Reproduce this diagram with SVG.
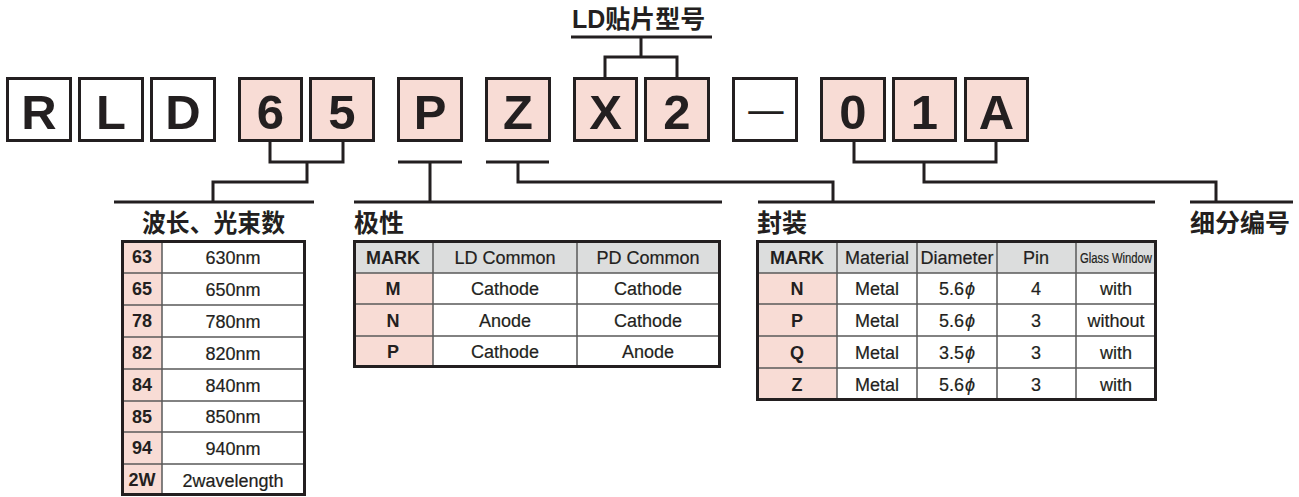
<svg xmlns="http://www.w3.org/2000/svg" width="1299" height="497" viewBox="0 0 1299 497">
<style>
.bx{stroke:#231f20;stroke-width:3;fill:#fff}
.pk{fill:#f8dcd5}
.lt{font-family:"Liberation Sans",Arial,sans-serif;font-weight:bold;font-size:49px;fill:#231f20;text-anchor:middle}
.hd{font-family:"Liberation Sans","Noto Sans CJK SC",sans-serif;font-weight:bold;font-size:25px;fill:#231f20}
.cn{fill:none;stroke:#231f20;stroke-width:3}
.ob{fill:none;stroke:#231f20;stroke-width:3}
.il{stroke:#5a5a5a;stroke-width:1.5}
.t{font-family:"Liberation Sans",Arial,sans-serif;font-size:18px;fill:#231f20;text-anchor:middle;stroke:#231f20;stroke-width:0.2}
.tb{font-family:"Liberation Sans",Arial,sans-serif;font-size:18px;font-weight:bold;fill:#231f20;text-anchor:middle}
.gh{fill:#dcdddd}
</style>
<g id="boxes">
<g id="box-R"><rect class="bx" x="7.5" y="78.5" width="63" height="62"/><text class="lt" x="39" y="129">R</text></g>
<g id="box-L"><rect class="bx" x="79.5" y="78.5" width="63" height="62"/><text class="lt" x="111" y="129">L</text></g>
<g id="box-D"><rect class="bx" x="151.5" y="78.5" width="63" height="62"/><text class="lt" x="183" y="129">D</text></g>
<g id="box-6"><rect class="bx pk" x="239.5" y="78.5" width="62" height="62"/><text class="lt" x="270.5" y="129">6</text></g>
<g id="box-5"><rect class="bx pk" x="310.5" y="78.5" width="63" height="62"/><text class="lt" x="342" y="129">5</text></g>
<g id="box-P"><rect class="bx pk" x="398.5" y="78.5" width="63" height="62"/><text class="lt" x="430" y="129">P</text></g>
<g id="box-Z"><rect class="bx pk" x="486.5" y="78.5" width="63" height="62"/><text class="lt" x="518" y="129">Z</text></g>
<g id="box-X"><rect class="bx pk" x="574.5" y="78.5" width="62" height="62"/><text class="lt" x="605.5" y="129">X</text></g>
<g id="box-2"><rect class="bx pk" x="645.5" y="78.5" width="63" height="62"/><text class="lt" x="677" y="129">2</text></g>
<g id="box-dash"><rect class="bx" x="733.5" y="78.5" width="63" height="62"/><text x="766" y="125" style="font-family:'Noto Sans CJK SC',sans-serif;font-size:44px;fill:#231f20;text-anchor:middle">—</text></g>
<g id="box-0"><rect class="bx pk" x="821.5" y="78.5" width="63" height="62"/><text class="lt" x="853" y="129">0</text></g>
<g id="box-1"><rect class="bx pk" x="893.5" y="78.5" width="62" height="62"/><text class="lt" x="924.5" y="129">1</text></g>
<g id="box-A"><rect class="bx pk" x="965.5" y="78.5" width="62" height="62"/><text class="lt" x="996.5" y="129">A</text></g>
</g>
<g id="connectors">
<path class="cn" d="M571,37H712M641,37V57M605,77V57H677V77"/>
<path class="cn" d="M270,142V162H343V142M307,162V182H213V202M114,202H314"/>
<path class="cn" d="M398,162H462M430,162V202M354,202H722"/>
<path class="cn" d="M486,162H549M518,162V182H833V202M758,202H1155"/>
<path class="cn" d="M854,142V162H996V142M924,162V182H1216V202M1190,202H1293"/>
</g>
<g id="labels">
<text class="hd" x="572" y="28">LD贴片型号</text>
<text class="hd" x="142" y="232" textLength="143" lengthAdjust="spacingAndGlyphs">波长、光束数</text>
<text class="hd" x="354" y="232">极性</text>
<text class="hd" x="757" y="232">封装</text>
<text class="hd" x="1190" y="232">细分编号</text>
</g>
<g id="table-wavelength">
<rect x="122" y="241" width="183" height="254" fill="#fff"/>
<rect class="pk" x="122" y="241" width="40" height="254"/>
<path class="il" d="M162,241V495M122,273H305M122,305H305M122,337H305M122,369H305M122,401H305M122,432H305M122,464H305"/>
<rect class="ob" x="122.5" y="241.5" width="182" height="253"/>
<g class="tb"><text x="142" y="263">63</text><text x="142" y="295">65</text><text x="142" y="327">78</text><text x="142" y="359">82</text><text x="142" y="391">84</text><text x="142" y="423">85</text><text x="142" y="454">94</text><text x="142" y="486">2W</text></g>
<g class="t"><text x="233" y="264">630nm</text><text x="233" y="296">650nm</text><text x="233" y="328">780nm</text><text x="233" y="360">820nm</text><text x="233" y="392">840nm</text><text x="233" y="423">850nm</text><text x="233" y="455">940nm</text><text x="233" y="487">2wavelength</text></g>
</g>
<g id="table-polarity">
<rect x="353" y="241" width="367" height="126" fill="#fff"/>
<rect class="gh" x="353" y="241" width="367" height="32"/>
<rect class="pk" x="353" y="273" width="80" height="94"/>
<path class="il" d="M433,241V367M577,241V367M353,273H720M353,304H720M353,336H720"/>
<rect class="ob" x="354.5" y="241.5" width="365" height="125"/>
<text class="tb" x="393" y="264">MARK</text><text class="t" x="505" y="264">LD Common</text><text class="t" x="648" y="264">PD Common</text>
<text class="tb" x="393" y="295">M</text><text class="t" x="505" y="295">Cathode</text><text class="t" x="648" y="295">Cathode</text>
<text class="tb" x="393" y="327">N</text><text class="t" x="505" y="327">Anode</text><text class="t" x="648" y="327">Cathode</text>
<text class="tb" x="393" y="358">P</text><text class="t" x="505" y="358">Cathode</text><text class="t" x="648" y="358">Anode</text>
</g>
<g id="table-package">
<rect x="756" y="241" width="401" height="159" fill="#fff"/>
<rect class="gh" x="756" y="241" width="401" height="32"/>
<rect class="pk" x="756" y="273" width="81" height="127"/>
<path class="il" d="M837,241V400M917,241V400M997,241V400M1076,241V400M756,273H1157M756,304H1157M756,336H1157M756,368H1157"/>
<rect class="ob" x="757.5" y="241.5" width="398" height="158"/>
<text class="tb" x="797" y="264">MARK</text><text class="t" x="877" y="264">Material</text><text class="t" x="957" y="264">Diameter</text><text class="t" x="1036" y="264">Pin</text><text class="t" x="1116" y="263" style="font-size:14px" textLength="72" lengthAdjust="spacingAndGlyphs">Glass Window</text>
<text class="tb" x="797" y="295">N</text><text class="t" x="877" y="295">Metal</text><text class="t" x="957" y="295">5.6<tspan dx="1" font-style="italic">ϕ</tspan></text><text class="t" x="1036" y="295">4</text><text class="t" x="1116" y="295">with</text>
<text class="tb" x="797" y="327">P</text><text class="t" x="877" y="327">Metal</text><text class="t" x="957" y="327">5.6<tspan dx="1" font-style="italic">ϕ</tspan></text><text class="t" x="1036" y="327">3</text><text class="t" x="1116" y="327">without</text>
<text class="tb" x="797" y="359">Q</text><text class="t" x="877" y="359">Metal</text><text class="t" x="957" y="359">3.5<tspan dx="1" font-style="italic">ϕ</tspan></text><text class="t" x="1036" y="359">3</text><text class="t" x="1116" y="359">with</text>
<text class="tb" x="797" y="391">Z</text><text class="t" x="877" y="391">Metal</text><text class="t" x="957" y="391">5.6<tspan dx="1" font-style="italic">ϕ</tspan></text><text class="t" x="1036" y="391">3</text><text class="t" x="1116" y="391">with</text>
</g>
</svg>
